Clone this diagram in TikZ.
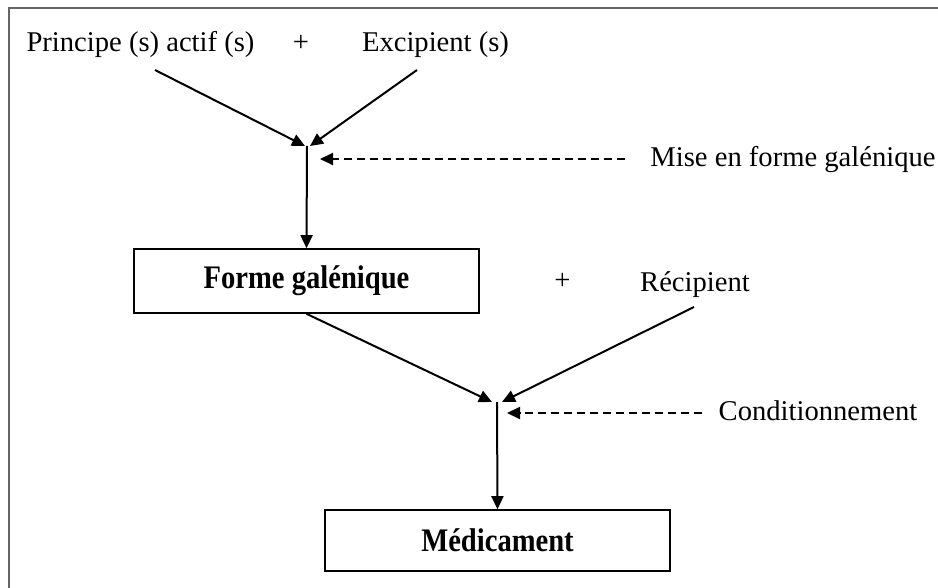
\documentclass[tikz,border=0pt]{standalone}
\usepackage{fontspec}
\setmainfont{Liberation Serif}
\usetikzlibrary{positioning,arrows.meta}
\newcommand{\tallbf}[1]{\scalebox{1}[1.15]{#1}}

\begin{document}
\begin{tikzpicture}
                [x=1pt,y=-1pt,
                txt/.style={font=\fontsize{28.6}{34}\selectfont,inner sep=0pt,anchor=base},
                box/.style={draw,line width=1.6pt,minimum width=345pt,inner sep=0pt,
                  font=\fontsize{28.6}{34}\selectfont\bfseries},
                arr/.style={line width=2pt,-{Triangle[length=13pt,width=12pt]}},
                dsh/.style={arr,dash pattern=on 8pt off 5pt}]
                \useasboundingbox (0,0) rectangle (938,588);
                \draw[line width=2pt,black!60] (9,588) -- (9,8) -- (938,8);
                % first step
                \node[txt] (pa) at (140.5,52){Principe (s) actif (s)};
                \node[txt] (plusa) at (301,52){+};
                \node[txt] (exc) at (435.5,52){Excipient (s)};
                \node[txt] (mise) at (793,167){Mise en forme galénique};
                \node[box,minimum height=64pt] (forme) at (306.5,281){\tallbf{Forme galénique}};
                % second step
                \node[txt] (plusb) at (562.5,290){+};
                \node[txt] (recip) at (695,292){Récipient};
                \node[txt] (cond) at (818,420){Conditionnement};
                \node[box,minimum height=61pt] (medic) at (497.5,540.5){\tallbf{Médicament}};
                % free ends
                \coordinate (sa) at (155,70);
                \coordinate (se) at (417,70);
                \coordinate (ta) at (305,146);
                \coordinate (te) at (310,146);
                \coordinate (ja) at (307,146);
                \coordinate (dm) at (625,159);
                \coordinate (tm) at (320,159);
                \coordinate (sr) at (694,307);
                \coordinate (tf) at (492,402);
                \coordinate (tr) at (502,402);
                \coordinate (jb) at (497,402);
                \coordinate (dc) at (702,413);
                \coordinate (tc) at (507,413);
                \draw[arr] (sa) -- (ta);
                \draw[arr] (se) -- (te);
                \draw[arr] (ja) -- (forme.north);
                \draw[dsh] (dm) -- (tm);
                \draw[arr] (forme.south) -- (tf);
                \draw[arr] (sr) -- (tr);
                \draw[arr] (jb) -- (medic.north);
                \draw[dsh] (dc) -- (tc);
            \end{tikzpicture}
\end{document}
